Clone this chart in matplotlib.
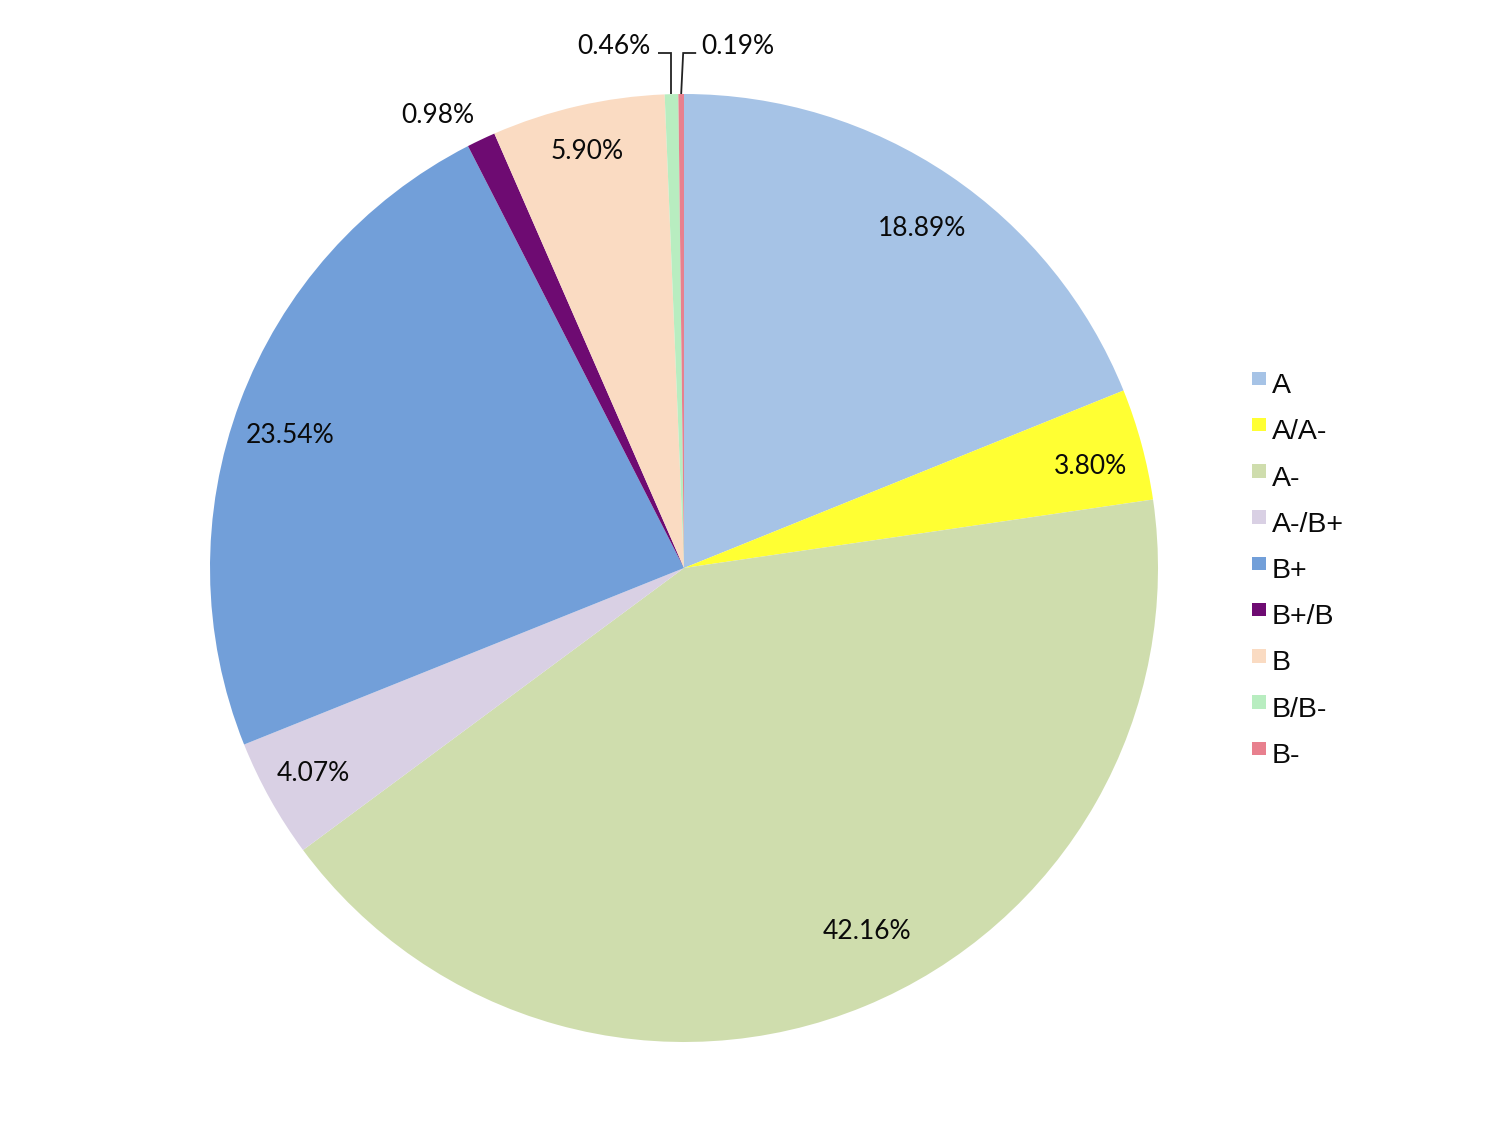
import numpy as np
import matplotlib
matplotlib.use("Agg")
import matplotlib.pyplot as plt
from matplotlib.patches import Rectangle

categories = ["A", "A/A-", "A-", "A-/B+", "B+", "B+/B", "B", "B/B-", "B-"]
values = [18.89, 3.80, 42.16, 4.07, 23.54, 0.98, 5.90, 0.46, 0.19]
pct_labels = ["18.89%", "3.80%", "42.16%", "4.07%", "23.54%", "0.98%", "5.90%", "0.46%", "0.19%"]
colors = ["#A6C3E6", "#FFFF33", "#CFDDAD", "#D9D0E4", "#729FD9",
          "#6E0B72", "#FADBC2", "#B8EDC0", "#E8808E"]

# label placement (radius in pie radii, angular nudge in degrees)
label_r = [0.879, 0.886, 0.854, 0.892, 0.879, 1.092, 0.909]
label_nudge = [-0.8, -0.7, 4.5, -0.5, 1.6, 3.1, 0.0]

W, H = 1500, 1125
fig = plt.figure(figsize=(15, 11.25), dpi=100)
cx, cy, R = 684, 568, 474
half = 500
ax = fig.add_axes([(cx - half) / W, (H - cy - half) / H, 2 * half / W, 2 * half / H])
lim = half / R

wedges, _ = ax.pie(values, colors=colors, startangle=90, counterclock=False,
                   radius=1.0, wedgeprops=dict(linewidth=0), frame=True)
ax.set_aspect("equal")
ax.set_xlim(-lim, lim)
ax.set_ylim(-lim, lim)
ax.axis("off")

label_font = dict(family=["Lato", "DejaVu Sans"], fontsize=19, color="#0a0a0a")

total = sum(values)
cum = np.cumsum([0] + values[:-1])
mids = [90 - (c + v / 2) / total * 360 for c, v in zip(cum, values)]

dy_fix = -3 / R  # tiny downward shift so the digit centres match
for i in range(7):
    a = np.deg2rad(mids[i] + label_nudge[i])
    r = label_r[i]
    ax.text(r * np.cos(a), r * np.sin(a) + dy_fix, pct_labels[i],
            ha="center", va="center", **label_font)

# leader lines for the two tiniest slices
y_line = (cy - 53) / R
y_text = (cy - 44) / R + dy_fix
# B/B- (left)
a = np.deg2rad(mids[7])
ex, ey = np.cos(a), np.sin(a)
ax.plot([ex, ex, ex - 13 / R], [ey, y_line, y_line], color="#222222", lw=1.3,
        solid_capstyle="butt", solid_joinstyle="miter", clip_on=False)
ax.text(ex - 21 / R, y_text, pct_labels[7], ha="right", va="center", **label_font)
# B- (right)
a = np.deg2rad(mids[8])
ex, ey = np.cos(a), np.sin(a)
ax.plot([ex, ex + 2 / R, ex + 15 / R], [ey, y_line, y_line], color="#222222", lw=1.3,
        solid_capstyle="butt", solid_joinstyle="miter", clip_on=False)
ax.text(ex + 20 / R, y_text, pct_labels[8], ha="left", va="center", **label_font)

# legend (square swatches sit slightly above the text centre)
leg_x_sq, leg_x_txt = 1252, 1272
leg_y0, leg_pitch = 393, 46.25   # baseline of first entry, row pitch (px)
sq = 13.5
for i, (cat, col) in enumerate(zip(categories, colors)):
    base = leg_y0 + i * leg_pitch
    fig.add_artist(Rectangle((leg_x_sq / W, 1 - (base - 8) / H), sq / W, sq / H,
                             transform=fig.transFigure, facecolor=col, edgecolor="none"))
    fig.text(leg_x_txt / W, 1 - base / H, cat, ha="left", va="baseline",
             family=["Liberation Sans", "DejaVu Sans"], fontsize=20.5, color="#0a0a0a")

fig.savefig("out.png", dpi=100, facecolor="white")
